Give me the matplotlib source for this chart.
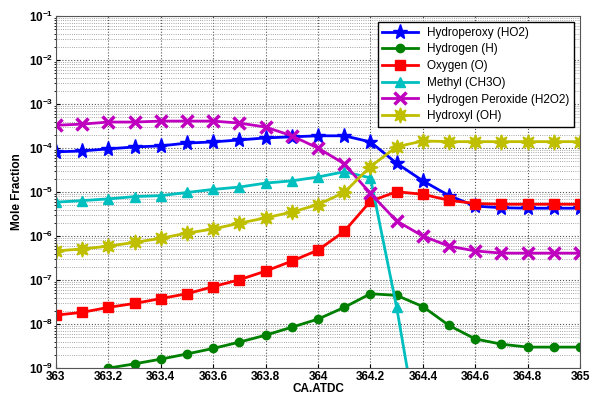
import numpy as np
import matplotlib
matplotlib.use("Agg")
import matplotlib.pyplot as plt
from matplotlib.ticker import LogLocator, MultipleLocator, NullFormatter

# crank angle (CA ATDC)
ca = [363.0, 363.1, 363.2, 363.3, 363.4, 363.5, 363.6, 363.7, 363.8, 363.9, 364.0,
      364.1, 364.2, 364.3, 364.4, 364.5, 364.6, 364.7, 364.8, 364.9, 365.0]

ho2 = [8.2e-5, 8.6e-5, 9.6e-5, 1.06e-4, 1.12e-4, 1.3e-4, 1.38e-4, 1.53e-4, 1.7e-4, 1.8e-4, 1.9e-4,
       1.9e-4, 1.38e-4, 4.5e-5, 1.8e-5, 8.3e-6, 4.8e-6, 4.4e-6, 4.3e-6, 4.3e-6, 4.3e-6]
h = [5e-10, 7e-10, 1.0e-9, 1.25e-9, 1.6e-9, 2.1e-9, 2.8e-9, 3.9e-9, 5.6e-9, 8.5e-9, 1.3e-8,
     2.4e-8, 4.9e-8, 4.5e-8, 2.5e-8, 9.3e-9, 4.6e-9, 3.5e-9, 3.0e-9, 3.0e-9, 3.0e-9]
o = [1.6e-8, 1.85e-8, 2.4e-8, 2.95e-8, 3.8e-8, 4.9e-8, 7.1e-8, 1.02e-7, 1.6e-7, 2.7e-7, 4.8e-7,
     1.28e-6, 6.2e-6, 1.02e-5, 8.9e-6, 6.5e-6, 5.5e-6, 5.3e-6, 5.3e-6, 5.3e-6, 5.3e-6]
ch3o = [5.9e-6, 6.4e-6, 7.0e-6, 7.9e-6, 8.3e-6, 9.8e-6, 1.15e-5, 1.3e-5, 1.6e-5, 1.8e-5, 2.2e-5,
        2.9e-5, 2.1e-5, 2.4e-8, 8.5e-12, 1e-13, 1e-13, 1e-13, 1e-13, 1e-13, 1e-13]
h2o2 = [3.3e-4, 3.5e-4, 3.9e-4, 3.9e-4, 4.1e-4, 4.1e-4, 4.1e-4, 3.7e-4, 3.0e-4, 1.9e-4, 1.0e-4,
        4.4e-5, 9.3e-6, 2.2e-6, 1.0e-6, 5.9e-7, 4.6e-7, 4.1e-7, 4.1e-7, 4.1e-7, 4.1e-7]
oh = [4.6e-7, 5.1e-7, 5.9e-7, 7.2e-7, 8.9e-7, 1.17e-6, 1.45e-6, 1.96e-6, 2.6e-6, 3.5e-6, 5.2e-6,
      9.8e-6, 3.8e-5, 1.07e-4, 1.45e-4, 1.4e-4, 1.4e-4, 1.4e-4, 1.4e-4, 1.4e-4, 1.4e-4]

plt.rcParams['font.family'] = ['Liberation Sans', 'DejaVu Sans']
plt.rcParams['font.weight'] = 'bold'

fig = plt.figure(figsize=(5.95, 4.01), dpi=100)
ax = fig.add_axes([0.094, 0.082, 0.881, 0.878])

ax.plot(ca, ho2, color='#0000ff', lw=2, marker='*', ms=11, label='Hydroperoxy (HO2)')
ax.plot(ca, h, color='#008000', lw=2, marker='o', ms=6, label='Hydrogen (H)')
ax.plot(ca, o, color='#ff0000', lw=2, marker='s', ms=7, label='Oxygen (O)')
ax.plot(ca, ch3o, color='#00bfbf', lw=2, marker='^', ms=7, label='Methyl (CH3O)')
ax.plot(ca, h2o2, color='#bf00bf', lw=2, marker='x', ms=8, mew=2.5, label='Hydrogen Peroxide (H2O2)')
ax.plot(ca, oh, color='#bfbf00', lw=2, marker=(8, 1, 0), ms=11, label='Hydroxyl (OH)')

ax.set_yscale('log')
ax.set_xlim(363, 365)
ax.set_ylim(1e-9, 1e-1)
ax.xaxis.set_major_locator(MultipleLocator(0.2))
ax.xaxis.set_major_formatter(plt.FuncFormatter(lambda v, p: f"{v:g}"))
ax.yaxis.set_major_locator(LogLocator(base=10, numticks=20))
ax.yaxis.set_minor_locator(LogLocator(base=10, subs=np.arange(2, 10), numticks=20))
ax.yaxis.set_minor_formatter(NullFormatter())

ax.grid(True, which='major', ls=':', color='#555555', lw=0.8)
ax.grid(True, which='minor', axis='y', ls=':', color='#888888', lw=0.6)
ax.tick_params(labelsize=8.5, direction='in', length=3, pad=2)
ax.tick_params(which='minor', length=1.5)
for sp in ax.spines.values():
    sp.set_color('#555555')

ax.set_xlabel('CA.ATDC', fontsize=8.5, fontweight='bold', labelpad=0)
ax.set_ylabel('Mole Fraction', fontsize=8.5, fontweight='bold', labelpad=4)

leg = ax.legend(loc='upper right', fontsize=8.5, fancybox=False, framealpha=1,
                edgecolor='k', handlelength=3, borderaxespad=0.5, labelspacing=0.4)
for t in leg.get_texts():
    t.set_fontweight('normal')

fig.savefig('out.png', dpi=100)
